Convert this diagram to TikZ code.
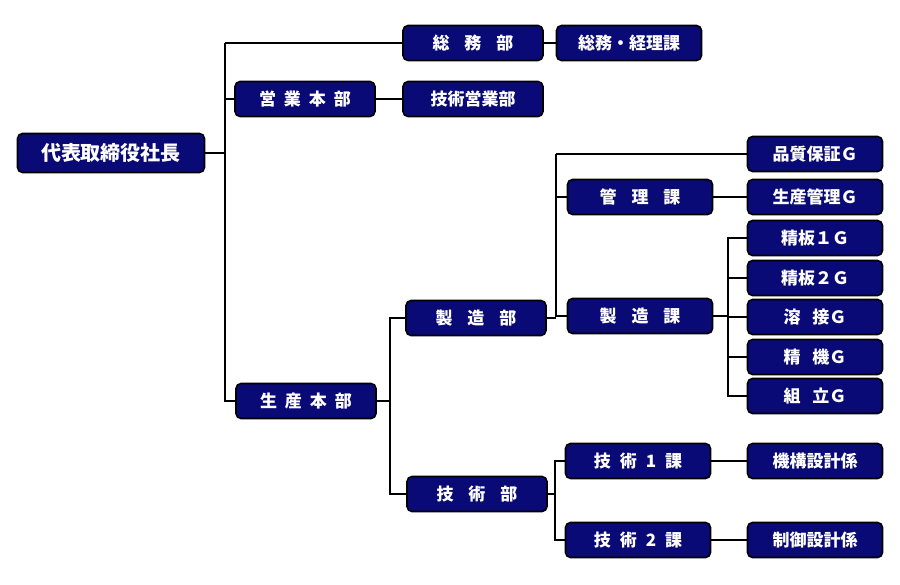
\documentclass[tikz,border=0pt]{standalone}
\usepackage{fontspec}
\setmainfont{Noto Sans CJK JP}
\begin{document}
\begin{tikzpicture}[x=1pt,y=-1pt,
  box/.style={draw=black, line width=1.6pt, fill=navybox, rounded corners=5pt, text=white,
    font=\bfseries\fontsize{17}{17}\selectfont, minimum width=140pt, minimum height=35pt, inner sep=0pt},
  conn/.style={line width=2.8pt, draw=black},
  thin/.style={line width=2pt, draw=black}]
\definecolor{navybox}{RGB}{10,10,118}
\useasboundingbox (0,0) rectangle (900,584);
% nodes
\node[box, minimum width=187pt, minimum height=39pt, font=\bfseries\fontsize{20}{20}\selectfont] (root) at (111,153) {代表取締役社長};
\node[box] (eigyo) at (305,99) {営\hspace{8pt}業\hspace{8pt}本\hspace{8pt}部};
\node[box] (seisan) at (306,401) {生\hspace{8pt}産\hspace{8pt}本\hspace{8pt}部};
\node[box] (soumu) at (473,43) {総\hspace{15pt}務\hspace{15pt}部};
\node[box, minimum width=145pt] (keiri) at (629,43) {総務・経理課};
\node[box] (gieigyo) at (473,99) {技術営業部};
\node[box] (seizobu) at (476,318) {製\hspace{15pt}造\hspace{15pt}部};
\node[box] (gijutsubu) at (477,494) {技\hspace{15pt}術\hspace{15pt}部};
\node[box, minimum width=145pt] (kanri) at (640,197) {管\hspace{15pt}理\hspace{15pt}課};
\node[box, minimum width=145pt] (seizoka) at (640,316) {製\hspace{15pt}造\hspace{15pt}課};
\node[box, minimum width=145pt] (g1ka) at (638,461) {技\hspace{9pt}術\hspace{9pt}1\hspace{9pt}課};
\node[box, minimum width=145pt] (g2ka) at (638,540) {技\hspace{9pt}術\hspace{9pt}2\hspace{9pt}課};
\node[box, minimum width=135pt] (hinshitsu) at (815,154) {品質保証Ｇ};
\node[box, minimum width=135pt] (seikan) at (815,197) {生産管理Ｇ};
\node[box, minimum width=135pt] (seiban1) at (815,238) {精板１Ｇ};
\node[box, minimum width=135pt] (seiban2) at (815,278) {精板２Ｇ};
\node[box, minimum width=135pt] (yosetsu) at (815,317) {溶\hspace{12pt}接Ｇ};
\node[box, minimum width=135pt] (seiki) at (815,357) {精\hspace{12pt}機Ｇ};
\node[box, minimum width=135pt] (kumitate) at (815,396) {組\hspace{12pt}立Ｇ};
\node[box, minimum width=135pt] (kikou) at (815,461) {機構設計係};
\node[box, minimum width=135pt] (seigyo) at (815,540) {制御設計係};
% trunk coordinates
\coordinate (t1) at (225,0);
\coordinate (t2) at (390,0);
\coordinate (t3) at (556,0);
\coordinate (t4) at (728,0);
\coordinate (t5) at (555,0);
\draw[thin] (soumu.west) -- (soumu.west -| t1);
\draw[conn] (soumu.west -| t1) -- (seisan.west -| t1) -- (seisan.west);
\draw[conn] (root.east) -- (root.east -| t1);
\draw[conn] (eigyo.west) -- (eigyo.west -| t1);
\draw[conn] (soumu.east) -- (keiri.west);
\draw[conn] (eigyo.east) -- (gieigyo.west);
% seisan honbu
\draw[conn] (seisan.east) -- (seisan.east -| t2);
\draw[conn] (seizobu.west) -- (seizobu.west -| t2) -- (gijutsubu.west -| t2) -- (gijutsubu.west);
% seizobu
\draw[conn] (seizobu.east) -- (seizobu.east -| t3);
\draw[thin] (hinshitsu.west) -- (hinshitsu.west -| t3);
\draw[conn] (hinshitsu.west -| t3) -- (seizoka.west -| t3) -- (seizoka.west);
\draw[conn] (kanri.west) -- (kanri.west -| t3);
\draw[conn] (kanri.east) -- (seikan.west);
% seizoka
\draw[conn] (seizoka.east) -- (seizoka.east -| t4);
\draw[thin] (seiban1.west) -- (seiban1.west -| t4) -- (kumitate.west -| t4) -- (kumitate.west);
\draw[thin] (seiban2.west) -- (seiban2.west -| t4);
\draw[thin] (yosetsu.west) -- (yosetsu.west -| t4);
\draw[thin] (seiki.west) -- (seiki.west -| t4);
% gijutsubu
\draw[conn] (gijutsubu.east) -- (gijutsubu.east -| t5);
\draw[conn] (g1ka.west) -- (g1ka.west -| t5) -- (g2ka.west -| t5) -- (g2ka.west);
\draw[conn] (g1ka.east) -- (kikou.west);
\draw[conn] (g2ka.east) -- (seigyo.west);
\end{tikzpicture}
\end{document}
